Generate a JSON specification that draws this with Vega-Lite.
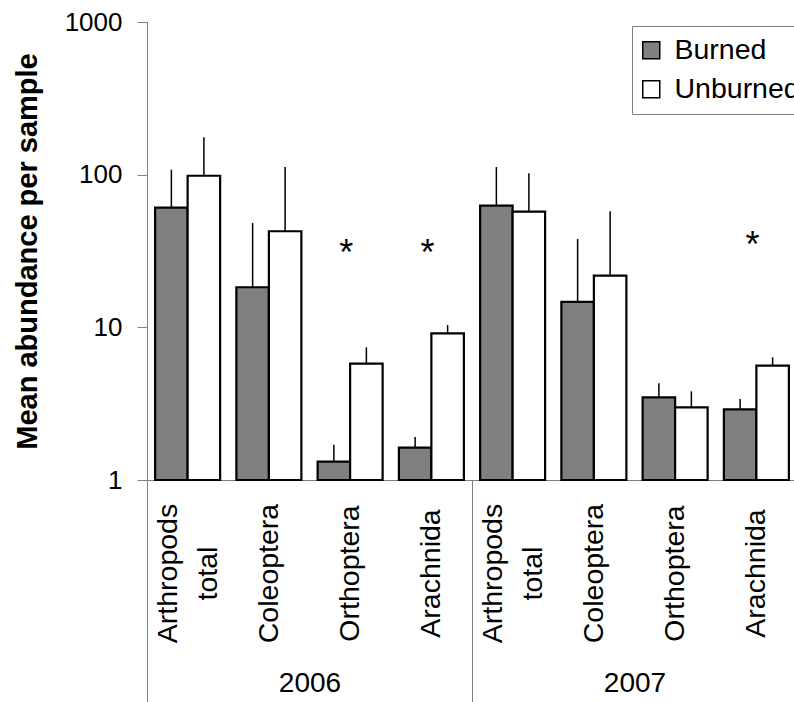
{
  "$schema": "https://vega.github.io/schema/vega-lite/v6.json",
  "width": 647,
  "height": 458,
  "autosize": {"type": "none"},
  "padding": {"left": 147, "top": 22, "right": 0, "bottom": 222},
  "config": {
    "font": "Liberation Sans",
    "view": {"stroke": null},
    "axis": {"labelColor": "black", "titleColor": "black", "grid": false}
  },
  "datasets": {
    "bars": [
      {"group": "2006 Arthropods total", "treatment": "Burned", "mean": 60.8, "upper": 107.8},
      {"group": "2006 Arthropods total", "treatment": "Unburned", "mean": 98.4, "upper": 175.7},
      {"group": "2006 Coleoptera", "treatment": "Burned", "mean": 18.3, "upper": 48.2},
      {"group": "2006 Coleoptera", "treatment": "Unburned", "mean": 42.6, "upper": 112.2},
      {"group": "2006 Orthoptera", "treatment": "Burned", "mean": 1.32, "upper": 1.70},
      {"group": "2006 Orthoptera", "treatment": "Unburned", "mean": 5.78, "upper": 7.40},
      {"group": "2006 Arachnida", "treatment": "Burned", "mean": 1.63, "upper": 1.91},
      {"group": "2006 Arachnida", "treatment": "Unburned", "mean": 9.14, "upper": 10.36},
      {"group": "2007 Arthropods total", "treatment": "Burned", "mean": 62.6, "upper": 112.2},
      {"group": "2007 Arthropods total", "treatment": "Unburned", "mean": 57.2, "upper": 102.1},
      {"group": "2007 Coleoptera", "treatment": "Burned", "mean": 14.7, "upper": 37.9},
      {"group": "2007 Coleoptera", "treatment": "Unburned", "mean": 21.8, "upper": 57.5},
      {"group": "2007 Orthoptera", "treatment": "Burned", "mean": 3.48, "upper": 4.30},
      {"group": "2007 Orthoptera", "treatment": "Unburned", "mean": 2.99, "upper": 3.81},
      {"group": "2007 Arachnida", "treatment": "Burned", "mean": 2.90, "upper": 3.39},
      {"group": "2007 Arachnida", "treatment": "Unburned", "mean": 5.61, "upper": 6.36}
    ],
    "stars": [
      {"group": "2006 Orthoptera", "y": 35.2, "mark": "*"},
      {"group": "2006 Arachnida", "y": 35.2, "mark": "*"},
      {"group": "2007 Arachnida", "y": 39.8, "mark": "*"}
    ],
    "years": [
      {"year": "2006"},
      {"year": "2007"}
    ]
  },
  "layer": [
    {
      "layer": [
        {
          "data": {"name": "bars"},
          "mark": {"type": "bar", "stroke": "black", "strokeWidth": 2.2},
          "encoding": {
            "x": {
              "field": "group", "type": "nominal",
              "scale": {
                "domain": ["2006 Arthropods total", "2006 Coleoptera", "2006 Orthoptera", "2006 Arachnida", "2007 Arthropods total", "2007 Coleoptera", "2007 Orthoptera", "2007 Arachnida"],
                "range": [0, 650], "paddingInner": 0.2, "paddingOuter": 0.1
              },
              "axis": {
                "orient": "bottom", "title": null, "ticks": false,
                "domain": true, "domainColor": "#808080", "domainWidth": 1,
                "labelAngle": 270, "labelAlign": "center", "labelBaseline": "middle",
                "labelPadding": 93, "labelFontSize": 28.5, "labelLineHeight": 40,
                "labelOffset": {"condition": {"test": "indexof(datum.value, 'Arthropods') >= 0", "value": -20}, "value": 0},
                "labelOverlap": false, "labelFlush": false, "labelBound": false,
                "labelExpr": "slice(datum.value, 5) == 'Arthropods total' ? ['Arthropods', 'total'] : slice(datum.value, 5)"
              }
            },
            "xOffset": {
              "field": "treatment", "type": "nominal",
              "scale": {"domain": ["Burned", "Unburned"], "paddingInner": 0, "paddingOuter": 0}
            },
            "y": {
              "field": "mean", "type": "quantitative",
              "scale": {"type": "log", "domain": [1, 1000], "nice": false},
              "axis": {
                "values": [1, 10, 100, 1000], "format": "d",
                "domainColor": "#808080", "tickColor": "#808080", "tickSize": 10,
                "labelFontSize": 26, "labelPadding": 15,
                "title": "Mean abundance per sample", "titleFontSize": 29,
                "titleFontWeight": "bold", "titlePadding": 22
              }
            },
            "y2": {"datum": 1},
            "fill": {
              "field": "treatment", "type": "nominal",
              "scale": {"domain": ["Burned", "Unburned"], "range": ["#808080", "#ffffff"]},
              "legend": {
                "orient": "none", "legendX": 485, "legendY": 4, "title": null,
                "direction": "vertical", "strokeColor": "#808080", "fillColor": "white",
                "padding": 10, "symbolOffset": -5, "symbolType": "square", "symbolSize": 289,
                "symbolStrokeColor": "black", "symbolStrokeWidth": 1.5,
                "labelFontSize": 28.5, "labelOffset": 9, "rowPadding": 10,
                "labelColor": "black", "labelLimit": 300
              }
            }
          }
        },
        {
          "data": {"name": "bars"},
          "mark": {"type": "rule", "color": "black", "strokeWidth": 1.5},
          "encoding": {
            "x": {"field": "group", "type": "nominal"},
            "xOffset": {"field": "treatment", "type": "nominal"},
            "y": {"field": "mean", "type": "quantitative"},
            "y2": {"field": "upper"}
          }
        },
        {
          "data": {"name": "stars"},
          "mark": {"type": "text", "fontSize": 36, "dx": -4, "dy": 10, "baseline": "middle", "color": "black"},
          "encoding": {
            "x": {"field": "group", "type": "nominal"},
            "y": {"field": "y", "type": "quantitative"},
            "text": {"field": "mark"}
          }
        }
      ]
    },
    {
      "data": {"name": "years"},
      "mark": {"type": "text", "text": ""},
      "encoding": {
        "x": {
          "field": "year", "type": "nominal",
          "scale": {"domain": ["2006", "2007"], "range": [0, 650], "paddingInner": 0, "paddingOuter": 0},
          "axis": {
            "orient": "bottom", "title": null, "domain": false,
            "ticks": true, "tickBand": "extent", "tickSize": 222,
            "tickColor": "#808080", "tickWidth": 1,
            "labelAngle": 0, "labelAlign": "center", "labelBaseline": "middle",
            "labelFontSize": 28, "labelPadding": -19
          }
        }
      }
    }
  ],
  "resolve": {"scale": {"x": "independent"}, "axis": {"x": "independent"}}
}
